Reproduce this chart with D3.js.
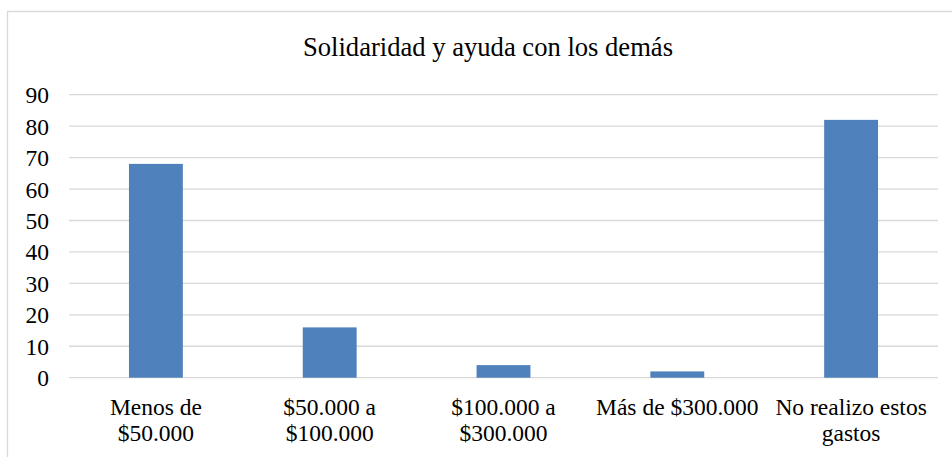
<!DOCTYPE html>
<html>
<head>
<meta charset="utf-8">
<script src="https://cdn.jsdelivr.net/npm/d3@7"></script>
<style>
  html, body { margin: 0; padding: 0; background: #ffffff; }
  svg { display: block; }
  svg text { font-family: "Liberation Serif", Tinos, "DejaVu Serif", serif; }
</style>
</head>
<body>
<div id="chart"></div>
<script>
"use strict";

// chart data
const title = "Solidaridad y ayuda con los demás";
const categories = ["Menos de $50.000", "$50.000 a $100.000", "$100.000 a $300.000", "Más de $300.000", "No realizo estos gastos"];
const categoryLines = [["Menos de", "$50.000"], ["$50.000 a", "$100.000"], ["$100.000 a", "$300.000"], ["Más de $300.000"], ["No realizo estos", "gastos"]];
const values = [68, 16, 4, 2, 82];
const yTicks = [0, 10, 20, 30, 40, 50, 60, 70, 80, 90];

const width = 952;
const height = 457;
const margin = {top: 94.7, right: 14, bottom: 79, left: 69};

const svg = d3.select("#chart")
    .append("svg")
    .attr("width", width)
    .attr("height", height);

// chart area border (cut off on the right and bottom)
svg.append("path")
    .attr("d", "M7.5," + height + "V11.5H" + width)
    .attr("fill", "none")
    .attr("stroke", "#d9d9d9")
    .attr("stroke-width", 1.3);

svg.append("text")
    .attr("x", 488)
    .attr("y", 56)
    .attr("text-anchor", "middle")
    .style("font-size", "26.6px")
    .style("fill", "#000000")
    .text(title);

const x = d3.scaleBand()
    .domain(categories)
    .range([margin.left, width - margin.right])
    .padding(0);

const y = d3.scaleLinear()
    .domain([0, 90])
    .range([height - margin.bottom - 0.3, margin.top]);

// gridlines
svg.append("g")
    .selectAll("line")
    .data(yTicks)
    .enter()
    .append("line")
    .attr("x1", margin.left)
    .attr("x2", width - margin.right)
    .attr("y1", d => y(d))
    .attr("y2", d => y(d))
    .attr("stroke", "#d9d9d9")
    .attr("stroke-width", 1.3);

// y axis labels
const yAxis = svg.append("g")
    .attr("transform", "translate(" + 49 + ",0)")
    .call(d3.axisLeft(y).tickValues(yTicks).tickSize(0).tickPadding(0));
yAxis.select(".domain").remove();
yAxis.attr("font-family", null);
yAxis.selectAll("text")
    .style("font-size", "23.5px")
    .style("fill", "#000000")
    .attr("dy", "0.34em");

// bars
const barW = x.bandwidth() * 0.31;
svg.append("g")
    .selectAll("rect")
    .data(values)
    .enter()
    .append("rect")
    .attr("x", (d, i) => x(categories[i]) + x.bandwidth() / 2 - barW / 2)
    .attr("y", d => y(d))
    .attr("width", barW)
    .attr("height", d => y(0) - y(d))
    .style("fill", "#4f81bd");

// x axis labels
const xAxis = svg.append("g")
    .attr("transform", "translate(0," + y(0) + ")")
    .call(d3.axisBottom(x).tickSize(0).tickFormat(""));
xAxis.select(".domain").remove();
xAxis.attr("font-family", null);
xAxis.selectAll(".tick").each(function(d, i) {
  const t = d3.select(this).append("text")
      .attr("text-anchor", "middle")
      .style("font-size", "23.5px")
      .style("fill", "#000000");
  categoryLines[i].forEach((line, j) => {
    t.append("tspan")
        .attr("x", 0)
        .attr("y", 37 + j * 26.7)
        .text(line);
  });
});
</script>
</body>
</html>
